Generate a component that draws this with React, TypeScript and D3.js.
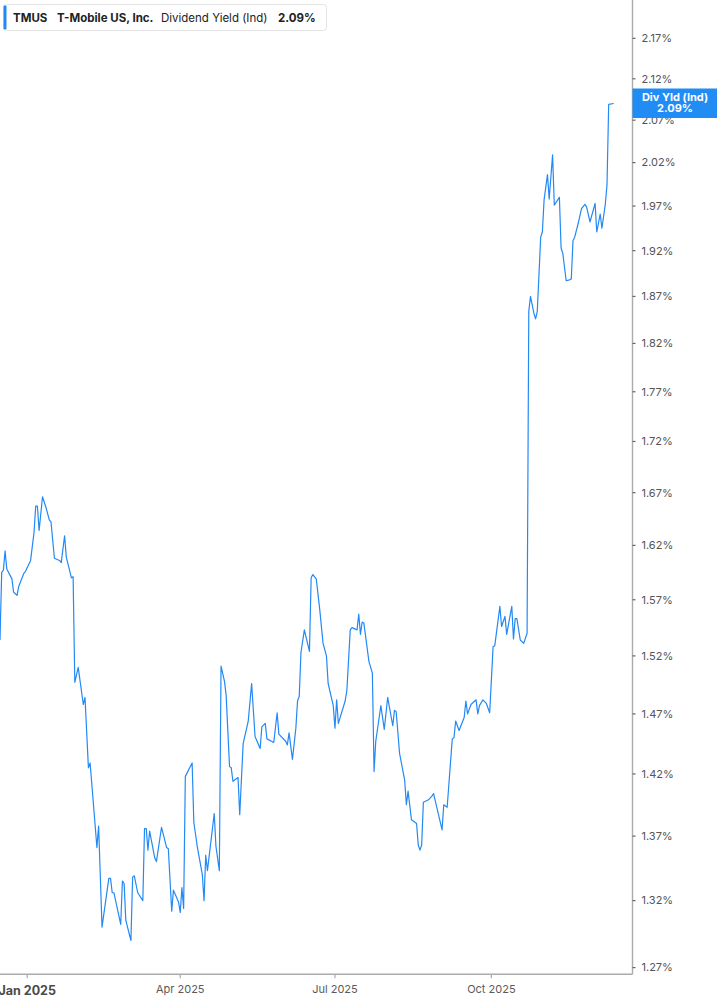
import React from 'react';
import * as d3 from 'd3';

// legend / badge text
const ticker = 'TMUS';
const companyName = 'T-Mobile US, Inc.';
const metricName = 'Dividend Yield (Ind)';
const badgeLabel = 'Div Yld (Ind)';

// axis ticks
const yTickValues = [1.27, 1.32, 1.37, 1.42, 1.47, 1.52, 1.57, 1.62, 1.67, 1.72, 1.77, 1.82, 1.87, 1.92, 1.97, 2.02, 2.07, 2.12, 2.17];
const xTickDates = ['2025-01-01', '2025-04-01', '2025-07-01', '2025-10-01'];
const xTickLabels = ['Jan 2025', 'Apr 2025', 'Jul 2025', 'Oct 2025'];

// dividend yield (%)
const yieldSeries: [string, number][] = [
  ['2024-12-16', 1.534], ['2024-12-17', 1.595], ['2024-12-18', 1.597], ['2024-12-19', 1.615],
  ['2024-12-20', 1.598], ['2024-12-23', 1.589], ['2024-12-24', 1.577], ['2024-12-26', 1.574],
  ['2024-12-27', 1.582], ['2024-12-30', 1.594], ['2024-12-31', 1.596], ['2025-01-03', 1.606],
  ['2025-01-05', 1.632], ['2025-01-06', 1.657], ['2025-01-07', 1.657], ['2025-01-08', 1.634],
  ['2025-01-10', 1.666], ['2025-01-12', 1.656], ['2025-01-14', 1.644], ['2025-01-15', 1.642],
  ['2025-01-17', 1.608], ['2025-01-20', 1.606], ['2025-01-21', 1.604], ['2025-01-23', 1.629],
  ['2025-01-24', 1.609], ['2025-01-27', 1.590], ['2025-01-28', 1.591], ['2025-01-29', 1.497],
  ['2025-01-31', 1.510], ['2025-02-03', 1.478], ['2025-02-04', 1.484], ['2025-02-06', 1.425],
  ['2025-02-07', 1.429], ['2025-02-11', 1.361], ['2025-02-12', 1.378], ['2025-02-14', 1.300],
  ['2025-02-18', 1.337], ['2025-02-19', 1.337], ['2025-02-20', 1.326], ['2025-02-21', 1.326],
  ['2025-02-25', 1.302], ['2025-02-26', 1.335], ['2025-02-27', 1.333], ['2025-02-28', 1.305],
  ['2025-03-03', 1.290], ['2025-03-04', 1.338], ['2025-03-05', 1.339], ['2025-03-07', 1.326],
  ['2025-03-10', 1.320], ['2025-03-11', 1.376], ['2025-03-12', 1.376], ['2025-03-13', 1.359],
  ['2025-03-14', 1.374], ['2025-03-17', 1.353], ['2025-03-18', 1.350], ['2025-03-21', 1.377],
  ['2025-03-24', 1.361], ['2025-03-25', 1.360], ['2025-03-27', 1.312], ['2025-03-28', 1.328],
  ['2025-03-31', 1.319], ['2025-04-01', 1.311], ['2025-04-02', 1.330], ['2025-04-03', 1.314],
  ['2025-04-04', 1.418], ['2025-04-08', 1.429], ['2025-04-09', 1.381], ['2025-04-11', 1.362],
  ['2025-04-14', 1.340], ['2025-04-15', 1.320], ['2025-04-16', 1.355], ['2025-04-17', 1.343],
  ['2025-04-21', 1.388], ['2025-04-22', 1.362], ['2025-04-24', 1.343], ['2025-04-25', 1.511],
  ['2025-04-27', 1.498], ['2025-04-28', 1.486], ['2025-04-30', 1.426], ['2025-05-01', 1.425],
  ['2025-05-02', 1.414], ['2025-05-05', 1.417], ['2025-05-06', 1.387], ['2025-05-08', 1.445],
  ['2025-05-11', 1.464], ['2025-05-13', 1.496], ['2025-05-15', 1.451], ['2025-05-18', 1.441],
  ['2025-05-19', 1.459], ['2025-05-21', 1.462], ['2025-05-22', 1.449], ['2025-05-26', 1.446],
  ['2025-05-28', 1.471], ['2025-05-29', 1.453], ['2025-06-02', 1.447], ['2025-06-03', 1.444],
  ['2025-06-04', 1.454], ['2025-06-06', 1.432], ['2025-06-08', 1.458], ['2025-06-09', 1.481],
  ['2025-06-10', 1.485], ['2025-06-11', 1.523], ['2025-06-13', 1.543], ['2025-06-16', 1.524],
  ['2025-06-17', 1.590], ['2025-06-18', 1.593], ['2025-06-20', 1.589], ['2025-06-22', 1.562],
  ['2025-06-24', 1.531], ['2025-06-26', 1.520], ['2025-06-27', 1.496], ['2025-06-30', 1.477],
  ['2025-07-01', 1.458], ['2025-07-02', 1.482], ['2025-07-03', 1.462], ['2025-07-07', 1.481],
  ['2025-07-08', 1.490], ['2025-07-10', 1.543], ['2025-07-11', 1.545], ['2025-07-14', 1.543],
  ['2025-07-15', 1.557], ['2025-07-16', 1.539], ['2025-07-17', 1.550], ['2025-07-18', 1.549],
  ['2025-07-21', 1.515], ['2025-07-23', 1.505], ['2025-07-24', 1.422], ['2025-07-25', 1.447],
  ['2025-07-28', 1.477], ['2025-07-30', 1.457], ['2025-08-01', 1.484], ['2025-08-04', 1.460],
  ['2025-08-05', 1.473], ['2025-08-06', 1.472], ['2025-08-08', 1.437], ['2025-08-11', 1.415],
  ['2025-08-12', 1.395], ['2025-08-13', 1.406], ['2025-08-15', 1.383], ['2025-08-18', 1.380],
  ['2025-08-19', 1.363], ['2025-08-20', 1.359], ['2025-08-21', 1.363], ['2025-08-22', 1.397],
  ['2025-08-25', 1.399], ['2025-08-27', 1.402], ['2025-08-28', 1.404], ['2025-09-02', 1.375],
  ['2025-09-03', 1.395], ['2025-09-05', 1.393], ['2025-09-08', 1.449], ['2025-09-09', 1.450],
  ['2025-09-10', 1.464], ['2025-09-12', 1.456], ['2025-09-15', 1.467], ['2025-09-16', 1.481],
  ['2025-09-17', 1.470], ['2025-09-19', 1.478], ['2025-09-22', 1.482], ['2025-09-23', 1.470],
  ['2025-09-24', 1.477], ['2025-09-26', 1.482], ['2025-09-28', 1.479], ['2025-09-30', 1.471],
  ['2025-10-02', 1.528], ['2025-10-03', 1.529], ['2025-10-06', 1.564], ['2025-10-07', 1.546],
  ['2025-10-09', 1.555], ['2025-10-10', 1.539], ['2025-10-13', 1.564], ['2025-10-14', 1.535],
  ['2025-10-15', 1.553], ['2025-10-16', 1.553], ['2025-10-18', 1.534], ['2025-10-20', 1.531],
  ['2025-10-22', 1.540], ['2025-10-23', 1.854], ['2025-10-24', 1.870], ['2025-10-26', 1.852],
  ['2025-10-27', 1.846], ['2025-10-28', 1.854], ['2025-10-30', 1.935], ['2025-10-31', 1.941],
  ['2025-11-01', 1.977], ['2025-11-03', 2.006], ['2025-11-04', 1.978], ['2025-11-06', 2.029],
  ['2025-11-07', 1.971], ['2025-11-09', 1.977], ['2025-11-10', 1.980], ['2025-11-11', 1.923],
  ['2025-11-12', 1.917], ['2025-11-14', 1.887], ['2025-11-16', 1.888], ['2025-11-17', 1.889],
  ['2025-11-18', 1.931], ['2025-11-19', 1.935], ['2025-11-21', 1.950], ['2025-11-23', 1.967],
  ['2025-11-25', 1.972], ['2025-11-26', 1.969], ['2025-11-28', 1.952], ['2025-12-01', 1.973],
  ['2025-12-02', 1.941], ['2025-12-04', 1.961], ['2025-12-05', 1.945], ['2025-12-07', 1.972],
  ['2025-12-08', 1.994], ['2025-12-09', 2.089], ['2025-12-12', 2.090],
];

const WIDTH = 717;
const HEIGHT = 1005;
const PLOT_RIGHT = 632.5;
const PLOT_BOTTOM = 974.3;
const LINE_COLOR = '#2389f5';
const AXIS_COLOR = '#ababab';

const parseDate = d3.timeParse('%Y-%m-%d');

const App: React.FC = () => {
  const data = yieldSeries.map(([d, v]) => ({ date: parseDate(d) as Date, value: v }));

  // x: time, y: log scale (tick spacing grows toward the bottom)
  const xScale = d3
    .scaleTime()
    .domain([parseDate('2024-12-16') as Date, parseDate('2025-12-23') as Date])
    .range([0, PLOT_RIGHT]);
  const yScale = d3.scaleLog().domain([1.2651, 2.2185]).range([PLOT_BOTTOM, 0]);

  const line = d3
    .line<{ date: Date; value: number }>()
    .x((d) => xScale(d.date))
    .y((d) => yScale(d.value));

  const last = data[data.length - 1];
  const badgeY = yScale(last.value);

  return (
    <div style={{ position: 'absolute', left: 0, top: 0 }}>
      <svg width={WIDTH} height={HEIGHT} style={{ display: 'block', fontFamily: 'Inter, "Noto Sans", sans-serif' }}>
        <rect x={0} y={0} width={WIDTH} height={HEIGHT} fill="#fff" />
        <defs>
          <clipPath id="plot-clip">
            <rect x={0} y={0} width={PLOT_RIGHT} height={PLOT_BOTTOM} />
          </clipPath>
        </defs>

        {/* series */}
        <path
          d={line(data) || ''}
          fill="none"
          stroke={LINE_COLOR}
          strokeWidth={1.2}
          strokeLinejoin="round"
          clipPath="url(#plot-clip)"
        />

        {/* axes */}
        <line x1={PLOT_RIGHT} x2={PLOT_RIGHT} y1={0} y2={PLOT_BOTTOM} stroke={AXIS_COLOR} strokeWidth={1.4} />
        <line x1={0} x2={PLOT_RIGHT} y1={PLOT_BOTTOM} y2={PLOT_BOTTOM} stroke={AXIS_COLOR} strokeWidth={1.4} />

        {yTickValues.map((t) => (
          <g key={t} transform={`translate(${PLOT_RIGHT},${yScale(t)})`}>
            <line x1={0} x2={3} y1={0} y2={0} stroke="#666" strokeWidth={1.2} />
            <text x={9} dy="0.35em" fontSize={11} fill="#555">
              {`${t.toFixed(2)}%`}
            </text>
          </g>
        ))}

        {xTickDates.map((d, i) => {
          const x = xScale(parseDate(d) as Date);
          const isYear = xTickLabels[i].startsWith('Jan');
          return (
            <g key={d} transform={`translate(${x},${PLOT_BOTTOM})`}>
              <line x1={0} x2={0} y1={0} y2={4} stroke={AXIS_COLOR} strokeWidth={1.2} />
              <text
                y={isYear ? 21 : 19}
                textAnchor="middle"
                fontSize={isYear ? 12.5 : 11}
                fontWeight={isYear ? 700 : 400}
                fill={isYear ? '#4a4a4a' : '#5a5a5a'}
              >
                {xTickLabels[i]}
              </text>
            </g>
          );
        })}

        {/* legend */}
        <rect x={3.5} y={4.5} width={323} height={26} rx={3} fill="#fff" stroke="#e4e4e4" />
        <rect x={3.5} y={5.5} width={3} height={24} rx={1} fill={LINE_COLOR} />
        <g fontSize={11.5} fill="#222" dominantBaseline="central">
          <text x={13} y={17.5} fontWeight={700}>{ticker}</text>
          <text x={57} y={17.5} fontWeight={700}>{companyName}</text>
          <text x={161} y={17.5}>{metricName}</text>
          <text x={278} y={17.5} fontWeight={700}>{`${last.value.toFixed(2)}%`}</text>
        </g>

        {/* last value badge */}
        <rect x={PLOT_RIGHT} y={badgeY - 15} width={WIDTH - PLOT_RIGHT} height={29.5} fill="#228cf5" />
        <text x={675} y={badgeY - 6} textAnchor="middle" dominantBaseline="central" fontSize={11} fontWeight={700} fill="#fff">
          {badgeLabel}
        </text>
        <text x={675} y={badgeY + 5} textAnchor="middle" dominantBaseline="central" fontSize={11} fontWeight={700} fill="#fff">
          {`${last.value.toFixed(2)}%`}
        </text>
      </svg>
    </div>
  );
};

export default App;
